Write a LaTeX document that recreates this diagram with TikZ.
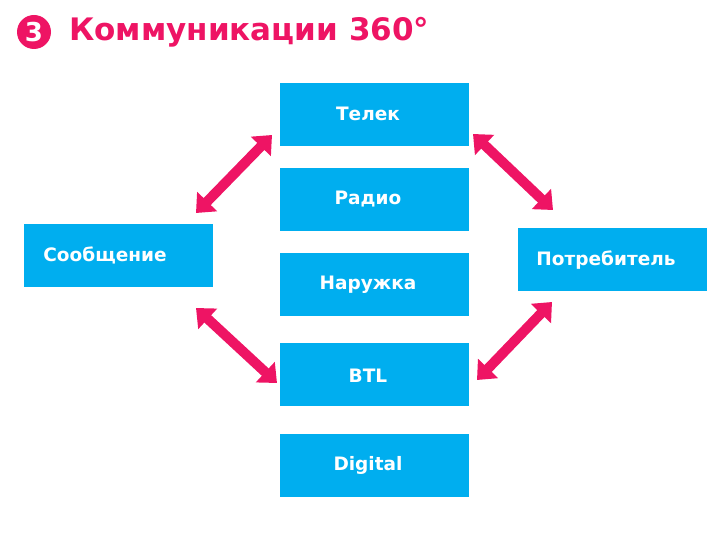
\documentclass[tikz,border=0pt]{standalone}
\usepackage{fontspec}
\setmainfont{DejaVu Sans}
\usetikzlibrary{arrows.meta}
\definecolor{boxblue}{HTML}{00AEEF}
\definecolor{hotpink}{HTML}{EE1464}
\tikzset{
  box/.style={fill=boxblue, draw=none, minimum width=189pt, minimum height=63pt, inner sep=0pt, anchor=north west},
  boxtext/.style={text=white, font=\bfseries\fontsize{18.5}{20}\selectfont, inner sep=0pt},
  fatarrow/.style={draw=hotpink, line width=10pt, {Triangle[width=27pt,length=16pt]}-{Triangle[width=27pt,length=16pt]}},
}
\begin{document}
\begin{tikzpicture}[x=1pt,y=-1pt]
\useasboundingbox (0,0) rectangle (720,540);
% title
\node[circle, fill=hotpink, minimum size=34pt, inner sep=0pt, text=white, font=\bfseries\fontsize{26}{28}\selectfont] (num) at (34,32) {3};
\node[anchor=west, text=hotpink, font=\bfseries\fontsize{31}{33}\selectfont, inner sep=0pt] (title) at (69,32) {Коммуникации 360°};
% boxes
\node[box] (telek) at (280,83) {};
\node[box] (radio) at (280,168) {};
\node[box] (naruzh) at (280,253) {};
\node[box] (btl) at (280,343) {};
\node[box] (digital) at (280,434) {};
\node[box] (soob) at (24,224) {};
\node[box] (potr) at (518,228) {};
% texts
\node[boxtext] (tTelek) at (368,114) {Телек};
\node[boxtext] (tRadio) at (368,199) {Радио};
\node[boxtext] (tNaruzh) at (368,285) {Наружка};
\node[boxtext] (tBtl) at (368,376) {BTL};
\node[boxtext] (tDigital) at (368,465) {Digital};
\node[boxtext] (tSoob) at (105,255) {Сообщение};
\node[boxtext] (tPotr) at (606,260) {Потребитель};
% arrow ends
\coordinate (a1s) at (196,213);
\coordinate (a1e) at (272,135);
\coordinate (a2s) at (473,134);
\coordinate (a2e) at (553,210);
\coordinate (a3s) at (196,308);
\coordinate (a3e) at (277,383);
\coordinate (a4s) at (552,302);
\coordinate (a4e) at (477,380);
\draw[fatarrow] (a1s) -- (a1e);
\draw[fatarrow] (a2s) -- (a2e);
\draw[fatarrow] (a3s) -- (a3e);
\draw[fatarrow] (a4s) -- (a4e);
\end{tikzpicture}
\end{document}
